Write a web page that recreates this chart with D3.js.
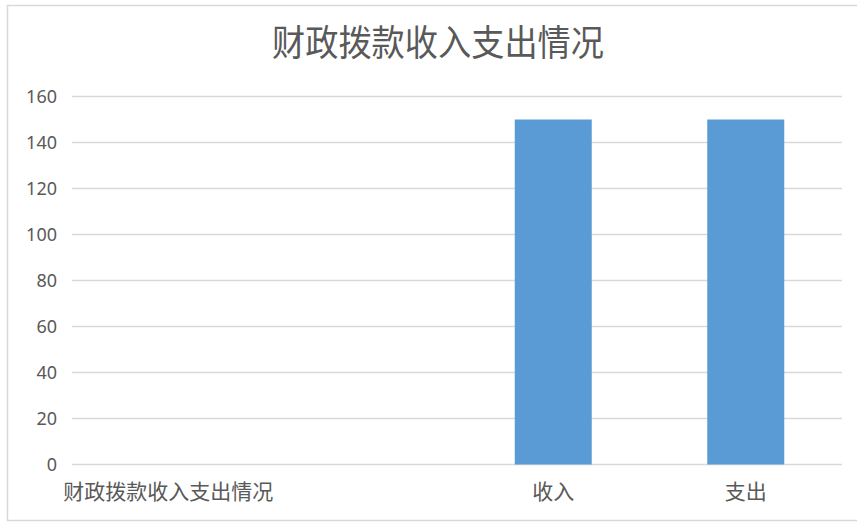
<!doctype html>
<html lang="zh">
<head>
  <meta charset="utf-8">
  <title>财政拨款收入支出情况</title>
  <style>
    html, body { margin: 0; padding: 0; background: #fff; }
  </style>
</head>
<body>
<svg id="chart" width="857" height="522"></svg>

<script src="https://d3js.org/d3.v7.min.js"></script>
<script type="text/javascript">
const title = '财政拨款收入支出情况';
const categories = ['财政拨款收入支出情况', '', '收入', '支出'];
const values = [null, null, 150, 150];
const yTicks = [0, 20, 40, 60, 80, 100, 120, 140, 160];

const data = categories.map((c, i) => ({ key: i, label: c, value: values[i] }));

const chart = d3.select('#chart');
const margin = { top: 96.5, right: 15, bottom: 57.5, left: 72 };
const width = 857 - margin.left - margin.right;
const height = 522 - margin.top - margin.bottom;
const textColor = '#595959';
const cjk = '"Noto Sans CJK SC", "Noto Sans", sans-serif';

// outer frame
chart.append('rect')
  .attr('x', 7.5)
  .attr('y', 5.5)
  .attr('width', 860)
  .attr('height', 515)
  .attr('fill', '#fff')
  .attr('stroke', '#d9d9d9')
  .attr('stroke-width', 1.5);

chart.append('text')
  .attr('x', 438)
  .attr('y', 56)
  .attr('text-anchor', 'middle')
  .attr('fill', textColor)
  .attr('font-family', cjk)
  .attr('font-size', 36)
  .attr('textLength', 332)
  .attr('lengthAdjust', 'spacingAndGlyphs')
  .text(title);

const innerChart = chart.append('g')
  .attr('transform', `translate(${margin.left} ${margin.top})`);

const x = d3.scaleBand()
  .domain(data.map(d => d.key))
  .range([0, width])
  .paddingInner(0.6)
  .paddingOuter(0.3);
const y = d3.scaleLinear().domain([0, 160]).range([height, 0]);

// gridlines
innerChart.append('g')
  .selectAll('line')
  .data(yTicks)
  .join('line')
  .attr('x1', 0)
  .attr('x2', width)
  .attr('y1', d => y(d))
  .attr('y2', d => y(d))
  .attr('stroke', '#d9d9d9')
  .attr('stroke-width', 1.5);

const yAxis = innerChart.append('g')
  .call(d3.axisLeft(y).tickValues(yTicks).tickSize(0).tickPadding(15));
yAxis.select('.domain').remove();
yAxis.selectAll('text')
  .attr('fill', textColor)
  .attr('font-family', '"Noto Sans", sans-serif')
  .attr('font-size', 18);

innerChart.append('g')
  .selectAll('rect')
  .data(data.filter(d => d.value != null))
  .join('rect')
  .attr('x', d => x(d.key))
  .attr('y', d => y(d.value))
  .attr('width', x.bandwidth())
  .attr('height', d => y(0) - y(d.value))
  .attr('fill', '#5b9bd5');

const xAxis = innerChart.append('g')
  .attr('transform', `translate(0 ${height})`)
  .call(d3.axisBottom(x).tickFormat(k => categories[k]).tickSize(0).tickPadding(20));
xAxis.select('.domain').remove();
xAxis.selectAll('text')
  .attr('fill', textColor)
  .attr('font-family', cjk)
  .attr('font-size', 21);
</script>
</body>
</html>
